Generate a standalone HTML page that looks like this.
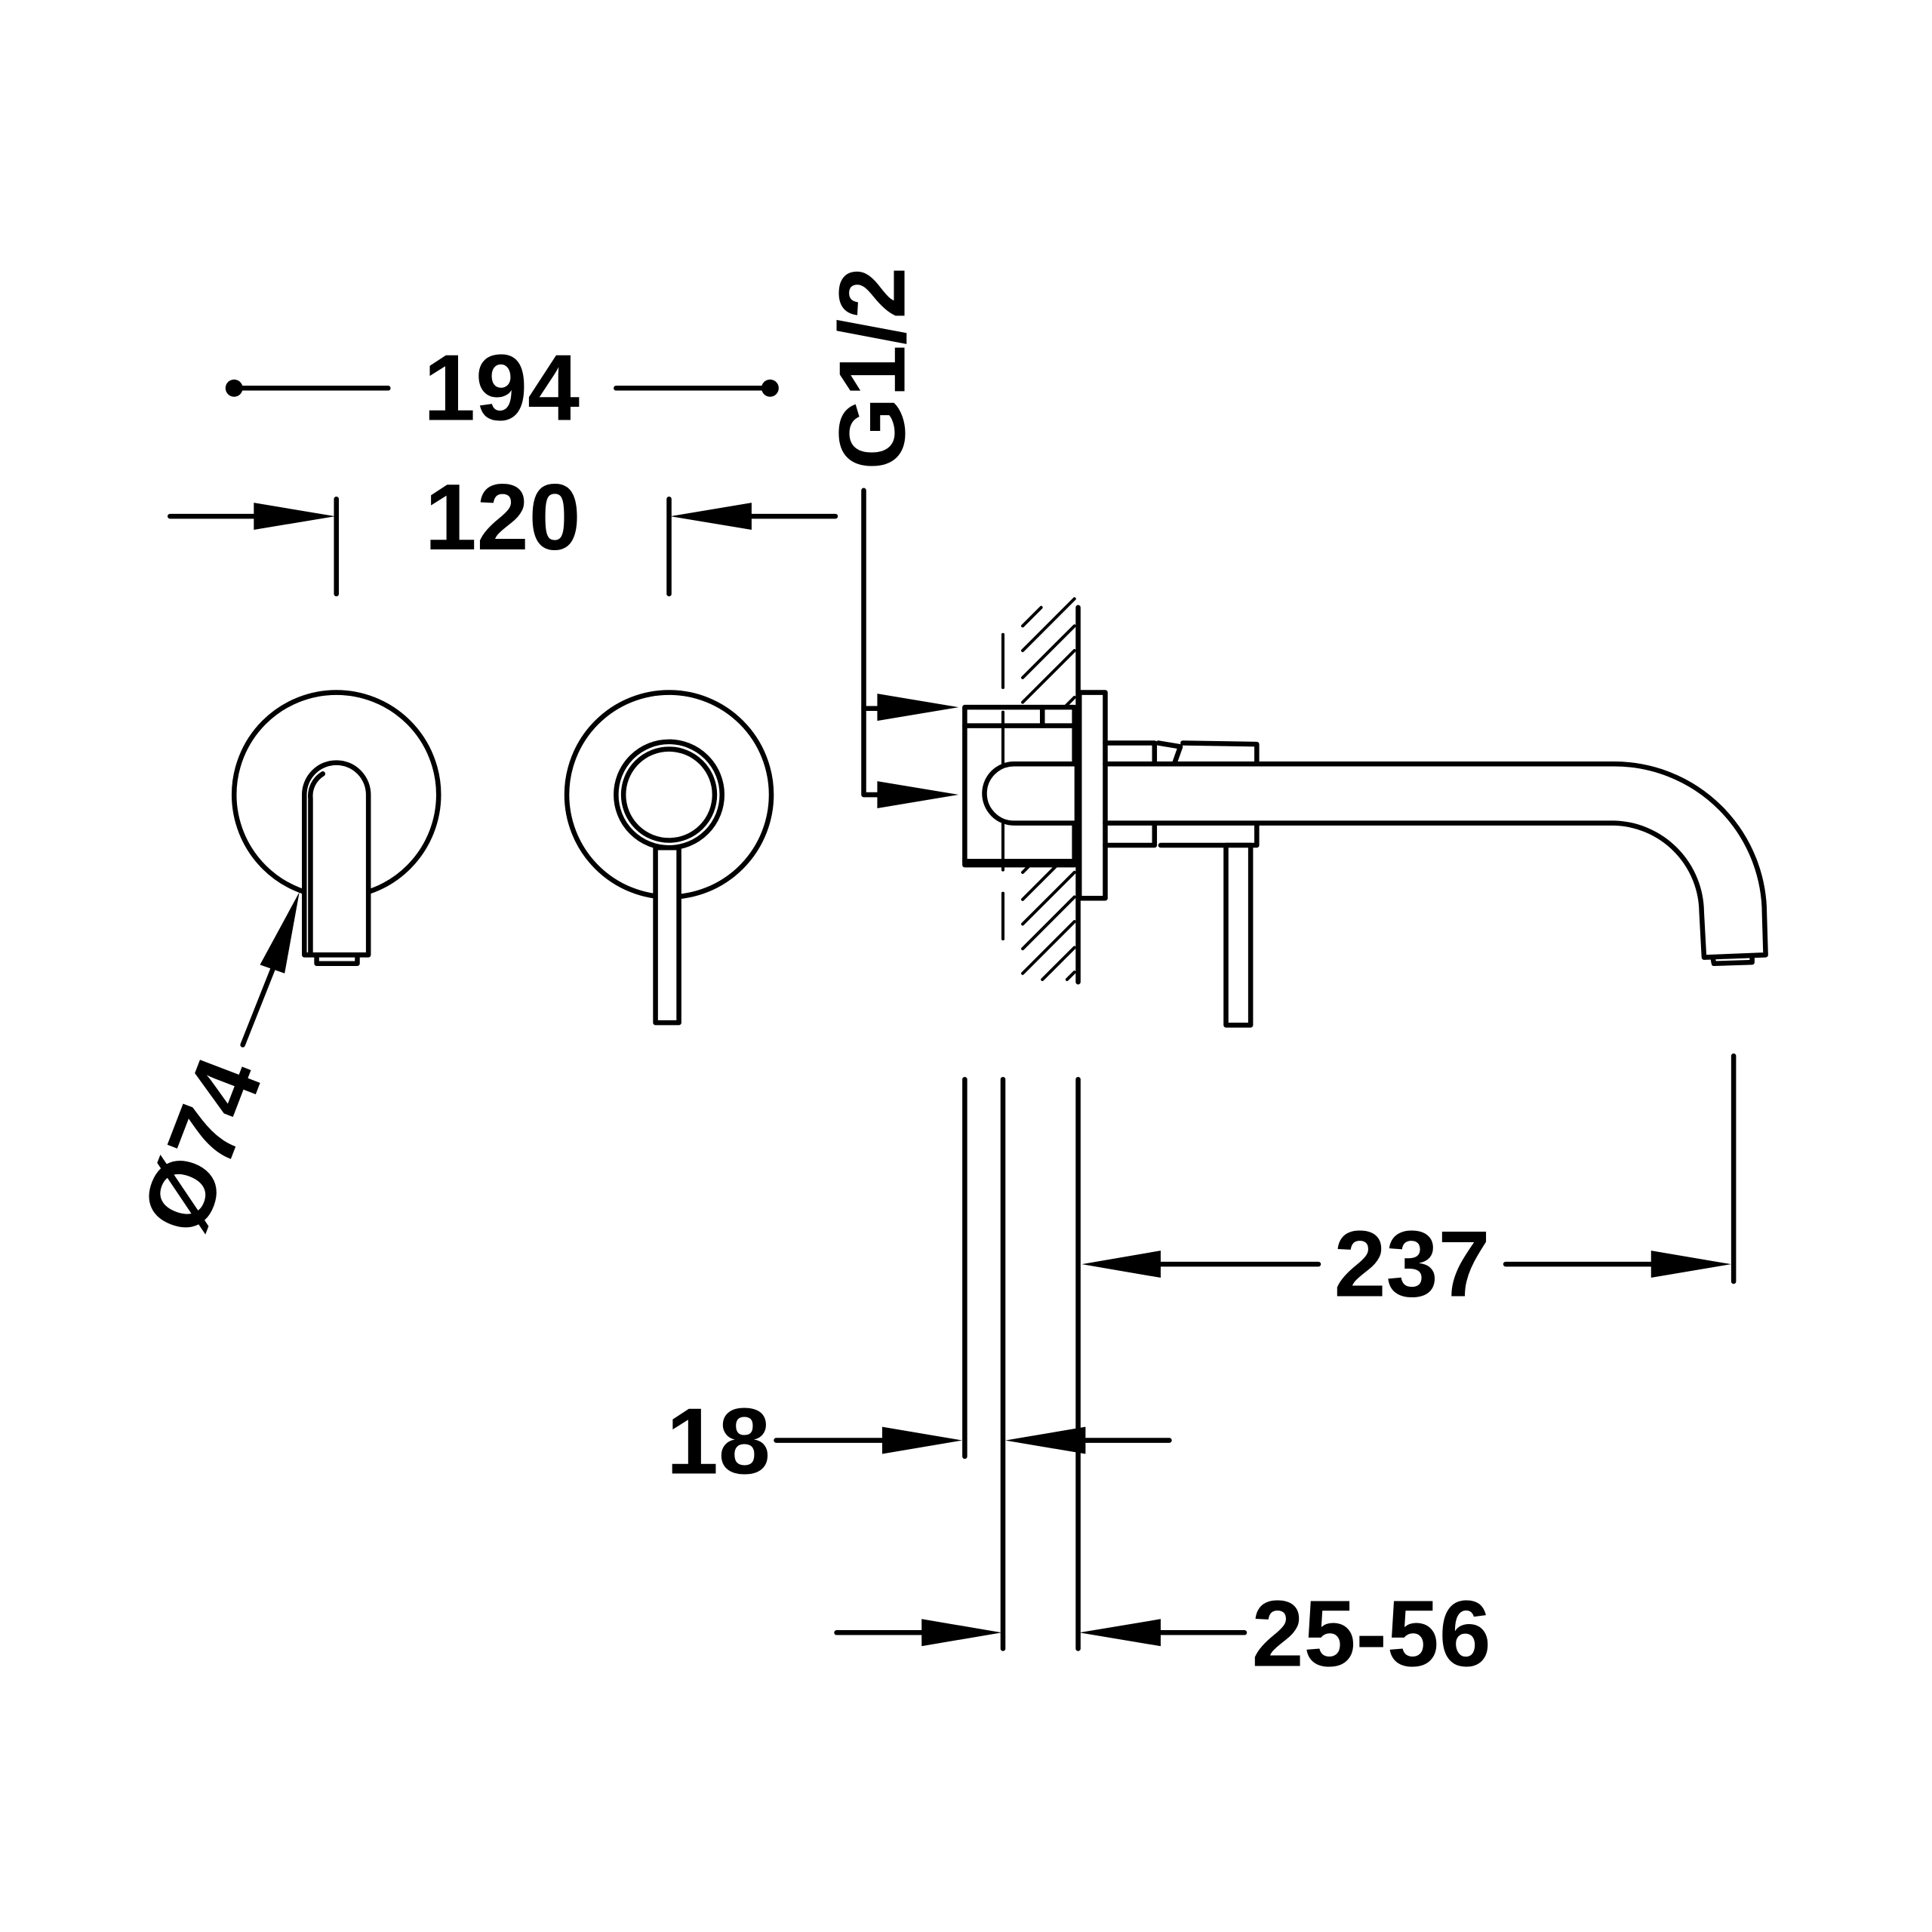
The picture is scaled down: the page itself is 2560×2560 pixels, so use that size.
<!DOCTYPE html>
<html><head><meta charset="utf-8"><style>html,body{margin:0;padding:0;background:#fff}svg{display:block}</style></head>
<body>
<svg width="2560" height="2560" viewBox="0 0 1568 1568" xmlns="http://www.w3.org/2000/svg">
<g fill="none" stroke="#000" stroke-width="4" stroke-linecap="round" stroke-linejoin="round">
<line x1="190" y1="315" x2="315" y2="315"/>
<line x1="500" y1="315" x2="625" y2="315"/>
<line x1="138" y1="419" x2="206" y2="419"/>
<line x1="273" y1="405" x2="273" y2="482"/>
<line x1="543" y1="405" x2="543" y2="482"/>
<line x1="610" y1="419" x2="678" y2="419"/>
<polyline points="701,398 701,645 712,645"/>
<line x1="701" y1="575" x2="712" y2="575"/>
<circle cx="273" cy="645" r="83"/>
<path d="M247,775 L247,645 A26,26 0 0 1 299,645 L299,775 Z" fill="#fff"/>
<path d="M252,775 L252,648 A21,21 0 0 1 262,628"/>
<polyline points="257,775 257,782 290,782 290,775"/>
<line x1="197" y1="848" x2="222" y2="785"/>
<circle cx="543" cy="645" r="83"/>
<rect x="532" y="688" width="19" height="142" fill="#fff"/>
<circle cx="543" cy="645" r="43" fill="#fff"/>
<circle cx="543" cy="645" r="37"/>
<line x1="875" y1="493" x2="875" y2="797"/>
<g stroke-width="2.5">
<line x1="830" y1="508" x2="845" y2="493"/>
<line x1="830" y1="528" x2="872" y2="486"/>
<line x1="830" y1="550" x2="872" y2="508"/>
<line x1="830" y1="570" x2="872" y2="528"/>
<line x1="850" y1="588" x2="872" y2="566"/>
<line x1="830" y1="708" x2="836" y2="702"/>
<line x1="830" y1="730" x2="858" y2="702"/>
<line x1="830" y1="750" x2="872" y2="708"/>
<line x1="830" y1="770" x2="872" y2="728"/>
<line x1="830" y1="790" x2="872" y2="748"/>
<line x1="846" y1="795" x2="872" y2="769"/>
<line x1="866" y1="795" x2="872" y2="789"/>
<line x1="814" y1="515" x2="814" y2="558"/>
<line x1="814" y1="725" x2="814" y2="762"/>
</g>
<rect x="783" y="574" width="89" height="128" fill="#fff"/>
<line x1="783" y1="589" x2="872" y2="589"/>
<line x1="783" y1="699" x2="872" y2="699"/>
<line x1="846" y1="574" x2="846" y2="589"/>
<line x1="814" y1="578" x2="814" y2="706" stroke-width="2.5"/>
<path d="M872,620 L823,620 A24,24 0 0 0 823,668 L872,668" fill="#fff"/>
<rect x="876" y="562" width="21" height="167" fill="#fff"/>
<path d="M897,620 L1310,620 A122,122 0 0 1 1432,742 L1433,775 L1383,777 L1381,740 A73,73 0 0 0 1310,668 L897,668"/>
<polyline points="1390,777 1391,782 1422,781 1422,777"/>
<polyline points="897,603 937,603 937,620"/>
<polyline points="940,603 958,606 953,620"/>
<polyline points="960,603 1020,604 1020,620"/>
<polyline points="897,686 937,686 937,668"/>
<polyline points="942,686 1020,686 1020,668"/>
<rect x="995" y="686" width="20" height="146" fill="#fff"/>
<line x1="783" y1="876" x2="783" y2="1182"/>
<line x1="814" y1="876" x2="814" y2="1338"/>
<line x1="875" y1="876" x2="875" y2="1338"/>
<line x1="1407" y1="857" x2="1407" y2="1040"/>
<line x1="942" y1="1026" x2="1070" y2="1026"/>
<line x1="1222" y1="1026" x2="1340" y2="1026"/>
<line x1="630" y1="1169" x2="716" y2="1169"/>
<line x1="881" y1="1169" x2="949" y2="1169"/>
<line x1="679" y1="1325" x2="748" y2="1325"/>
<line x1="942" y1="1325" x2="1010" y2="1325"/>
</g>
<g fill="#000">
<circle cx="190" cy="315" r="7"/>
<circle cx="625" cy="315" r="7"/>
<polygon points="206,408 272,419 206,430"/>
<polygon points="610,408 544,419 610,430"/>
<polygon points="712,563 778,574 712,585"/>
<polygon points="712,634 778,645 712,656"/>
<polygon points="243,724 231,790 211,783"/>
<polygon points="942,1015 878,1026 942,1037"/>
<polygon points="1340,1015 1405,1026 1340,1037"/>
<polygon points="716,1158 781,1169 716,1180"/>
<polygon points="881,1158 816,1169 881,1180"/>
<polygon points="748,1314 813,1325 748,1336"/>
<polygon points="942,1314 876,1325 942,1336"/>
</g>
<g font-family="Liberation Sans, sans-serif" font-weight="bold" font-size="76" text-anchor="middle" fill="#000">
<text x="407" y="341">194</text>
<text x="408" y="446">120</text>
<text x="1146" y="1052">237</text>
<text x="583" y="1196">18</text>
<text x="1113" y="1352">25-56</text>
<text transform="translate(734,299) rotate(-90)">G1/2</text>
<text transform="translate(188,939) rotate(-69)">Ø74</text>
</g>
</svg>
</body></html>
